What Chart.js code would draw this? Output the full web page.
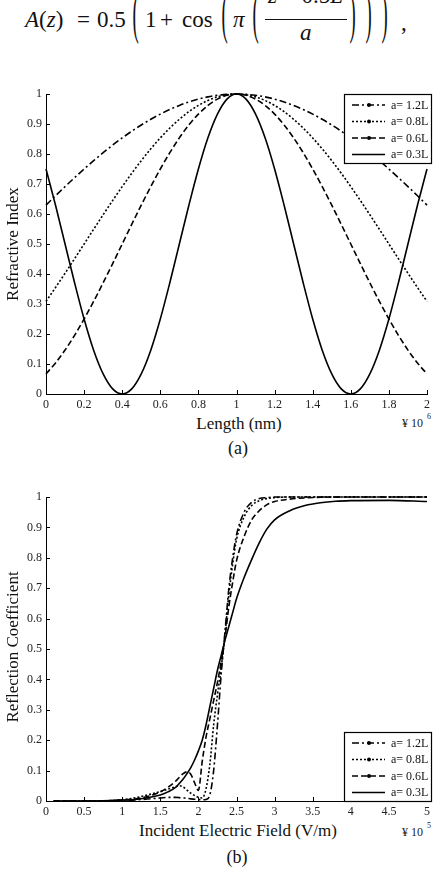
<!DOCTYPE html>
<html><head><meta charset="utf-8">
<script src="https://cdn.jsdelivr.net/npm/chart.js@4/dist/chart.umd.min.js"></script>
<style>
html,body{margin:0;padding:0;background:#fff;}
#page{position:relative;width:434px;height:872px;overflow:hidden;font-family:"Liberation Serif","Times New Roman",serif;color:#111;}
.t{position:absolute;white-space:nowrap;line-height:1;font-family:"Liberation Serif","Times New Roman",serif;}
.c{transform:translate(-50%,-50%);}
.r{transform:translate(-50%,-50%) rotate(-90deg);}
.f{font-size:23px;}
.p{font-size:22px;transform:scale(0.85,2.6);transform-origin:50% 60%;}
canvas{position:absolute;left:0;}
</style></head><body><div id="page">
<!-- formula -->
<span class="t f" style="left:25px;top:8px"><i>A</i>(<i>z</i>)</span>
<span class="t f" style="left:77px;top:8px">=</span>
<span class="t f" style="left:97px;top:8px">0.5</span>
<span class="t p" style="left:132px;top:6px">(</span>
<span class="t f" style="left:145px;top:8px">1</span>
<span class="t f" style="left:160px;top:8px">+</span>
<span class="t f" style="left:182px;top:8px">cos</span>
<span class="t p" style="left:221px;top:6px">(</span>
<span class="t f" style="left:233px;top:8px"><i>π</i></span>
<span class="t p" style="left:252px;top:6px">(</span>
<span class="t f" style="left:268px;top:-16px"><i>z</i> − 0.5<i>L</i></span>
<div style="position:absolute;left:265px;top:18.5px;width:82px;height:1.2px;background:#111"></div>
<span class="t f" style="left:300px;top:21px"><i>a</i></span>
<span class="t p" style="left:349px;top:6px">)</span>
<span class="t p" style="left:365px;top:6px">)</span>
<span class="t p" style="left:381px;top:6px">)</span>
<span class="t f" style="left:401px;top:11px">,</span>

<canvas id="ca" width="434" height="330" style="top:80px"></canvas>
<canvas id="cb" width="434" height="335" style="top:483px"></canvas>

<span class="t r" style="left:12px;top:244px;font-size:17px">Refractive Index</span>
<span class="t c" style="left:239px;top:423px;font-size:17px">Length (nm)</span>
<span class="t" style="left:402px;top:417px;font-size:12px;color:#222">¥ 10</span><span class="t" style="left:427px;top:413px;font-size:8px;color:#222">6</span>
<span class="t c" style="left:238px;top:448px;font-size:18px">(a)</span>

<span class="t r" style="left:12px;top:647px;font-size:17px">Reflection Coefficient</span>
<span class="t c" style="left:238px;top:830px;font-size:17px">Incident Electric Field (V/m)</span>
<span class="t" style="left:402px;top:826px;font-size:12px;color:#222">¥ 10</span><span class="t" style="left:427px;top:822px;font-size:8px;color:#222">5</span>
<span class="t c" style="left:237px;top:857px;font-size:18px">(b)</span>
</div>
<script>
// ---------- Chart (a): refractive index profiles ----------
const lengthX = [0,0.05,0.1,0.15,0.2,0.25,0.3,0.35,0.4,0.45,0.5,0.55,0.6,0.65,0.7,0.75,0.8,0.85,0.9,0.95,1,1.05,1.1,1.15,1.2,1.25,1.3,1.35,1.4,1.45,1.5,1.55,1.6,1.65,1.7,1.75,1.8,1.85,1.9,1.95,2];
const idx12 = [0.6294,0.6607,0.6913,0.7211,0.75,0.7778,0.8044,0.8297,0.8536,0.8759,0.8967,0.9157,0.9330,0.9484,0.9619,0.9735,0.9830,0.9904,0.9957,0.9989,1,0.9989,0.9957,0.9904,0.9830,0.9735,0.9619,0.9484,0.9330,0.9157,0.8967,0.8759,0.8536,0.8297,0.8044,0.7778,0.75,0.7211,0.6913,0.6607,0.6294];
const idx08 = [0.3087,0.3549,0.4025,0.4510,0.5,0.5490,0.5975,0.6451,0.6913,0.7357,0.7778,0.8172,0.8536,0.8865,0.9157,0.9410,0.9619,0.9785,0.9904,0.9976,1,0.9976,0.9904,0.9785,0.9619,0.9410,0.9157,0.8865,0.8536,0.8172,0.7778,0.7357,0.6913,0.6451,0.5975,0.5490,0.5,0.4510,0.4025,0.3549,0.3087];
const idx06 = [0.0670,0.1033,0.1464,0.1956,0.25,0.3087,0.3706,0.4347,0.5,0.5653,0.6294,0.6913,0.75,0.8044,0.8536,0.8967,0.9330,0.9619,0.9830,0.9957,1,0.9957,0.9830,0.9619,0.9330,0.8967,0.8536,0.8044,0.75,0.6913,0.6294,0.5653,0.5,0.4347,0.3706,0.3087,0.25,0.1956,0.1464,0.1033,0.0670];
const idx03 = [0.75,0.629,0.5,0.371,0.25,0.146,0.067,0.017,0,0.017,0.067,0.146,0.25,0.371,0.5,0.629,0.75,0.854,0.933,0.983,1,0.983,0.933,0.854,0.75,0.629,0.5,0.371,0.25,0.146,0.067,0.017,0,0.017,0.067,0.146,0.25,0.371,0.5,0.629,0.75];

// ---------- Chart (b): reflection coefficient ----------
const fieldX = [0.1,0.5,1.0,1.2,1.4,1.5,1.6,1.7,1.75,1.8,1.85,1.9,1.95,2.0,2.05,2.1,2.15,2.2,2.25,2.3,2.35,2.4,2.45,2.5,2.6,2.7,2.8,2.9,3.0,3.2,3.4,3.6,3.8,4.0,4.5,5.0];
const refl12 = [0,0,0.002,0.004,0.008,0.01,0.012,0.012,0.011,0.01,0.009,0.007,0.006,0.005,0.004,0.005,0.02,0.1,0.25,0.42,0.56,0.7,0.8,0.875,0.95,0.983,0.995,0.998,1,1,1,1,1,1,1,1];
const refl08 = [0,0,0.004,0.012,0.024,0.031,0.039,0.047,0.05,0.046,0.036,0.026,0.018,0.012,0.01,0.04,0.12,0.25,0.35,0.44,0.55,0.68,0.78,0.86,0.935,0.972,0.988,0.995,0.998,1,1,1,1,1,1,1];
const refl06 = [0,0,0.003,0.008,0.02,0.03,0.045,0.065,0.078,0.09,0.096,0.088,0.06,0.035,0.13,0.21,0.27,0.33,0.39,0.46,0.54,0.64,0.72,0.79,0.87,0.925,0.955,0.975,0.985,0.993,0.997,0.999,1,1,1,1];
const refl03 = [0,0,0.003,0.006,0.014,0.02,0.03,0.045,0.058,0.072,0.09,0.11,0.135,0.165,0.2,0.25,0.31,0.37,0.43,0.48,0.53,0.575,0.62,0.665,0.735,0.795,0.85,0.895,0.925,0.955,0.972,0.981,0.986,0.988,0.989,0.985];

const seriesNames = ['a= 1.2L','a= 0.8L','a= 0.6L','a= 0.3L'];
const xTicksA = [0,2,0.2];
const xTicksB = [0,5,0.5];
const yTicks = [0,1,0.1];

Chart.defaults.font.family = '"Liberation Serif","Times New Roman",serif';
Chart.defaults.font.size = 12;
Chart.defaults.color = '#222';
Chart.defaults.animation = false;

const styles = [
  {borderDash:[7,3,2,3]},
  {borderDash:[2,2]},
  {borderDash:[6,3]},
  {borderDash:[]}
];

function mk(xs, ys, i){
  return {label: seriesNames[i], data: xs.map((x,k)=>({x:x, y:ys[k]})),
    borderColor:'#000', borderWidth:1.6, borderDash: styles[i].borderDash,
    pointRadius:0, cubicInterpolationMode:'monotone', clip:6, fill:false};
}

const inwardTicks = {
  id:'inwardTicks',
  afterDatasetsDraw(chart){
    const ctx = chart.ctx, xs = chart.scales.x, ys = chart.scales.y;
    ctx.save(); ctx.strokeStyle='#000'; ctx.lineWidth=1; ctx.setLineDash([]);
    ctx.beginPath();
    xs.ticks.forEach(t=>{ const p = Math.round(xs.getPixelForValue(t.value))+0.5; ctx.moveTo(p, ys.bottom); ctx.lineTo(p, ys.bottom-4); });
    ys.ticks.forEach(t=>{ const p = Math.round(ys.getPixelForValue(t.value))+0.5; ctx.moveTo(xs.left, p); ctx.lineTo(xs.left+4, p); });
    ctx.stroke(); ctx.restore();
  }
};

const boxLegend = {
  id:'boxLegend',
  afterDraw(chart, args, o){
    if(!o || o.x === undefined) return;
    const ctx = chart.ctx;
    ctx.save();
    ctx.fillStyle='#fff'; ctx.fillRect(o.x, o.y, o.w, o.h);
    ctx.strokeStyle='#000'; ctx.lineWidth=1.2; ctx.setLineDash([]);
    ctx.strokeRect(o.x+0.5, o.y+0.5, o.w, o.h);
    const offs = [11, 27.5, 44, 60.5];
    chart.data.datasets.forEach((ds,i)=>{
      const yy = o.y + offs[i];
      ctx.beginPath(); ctx.strokeStyle='#000'; ctx.lineWidth=ds.borderWidth;
      ctx.setLineDash(ds.borderDash||[]);
      ctx.moveTo(o.x+8, yy); ctx.lineTo(o.x+41, yy); ctx.stroke();
      ctx.setLineDash([]);
      if(i<3){ ctx.beginPath(); ctx.fillStyle='#000'; ctx.arc(o.x+25, yy, 2, 0, Math.PI*2); ctx.fill(); }
      ctx.fillStyle='#111'; ctx.font='12px "Liberation Serif", serif'; ctx.textBaseline='middle'; ctx.textAlign='left';
      ctx.fillText(ds.label, o.x+47, yy+0.5);
    });
    ctx.restore();
  }
};

const fmt = v => String(Number(v.toFixed(1)));

function makeChart(id, xs, seriesList, xr, xh, legendPos){
  return new Chart(document.getElementById(id), {
    type:'line',
    data:{datasets: seriesList.map((ys,i)=>mk(xs, ys, i))},
    options:{
      responsive:false, devicePixelRatio:1,
      layout:{padding:{top:14,right:4.5,left:0,bottom:0}},
      plugins:{legend:{display:false}, tooltip:{enabled:false}, boxLegend: legendPos},
      scales:{
        x:{type:'linear', min:xr[0], max:xr[1],
           ticks:{stepSize:xr[2], padding:4, callback:fmt, maxRotation:0, autoSkip:false},
           grid:{display:false, drawTicks:false},
           border:{display:true, color:'#000', width:1},
           afterFit(s){ s.height = xh; }},
        y:{type:'linear', min:yTicks[0], max:yTicks[1],
           ticks:{stepSize:yTicks[2], padding:4, callback:fmt, autoSkip:false},
           grid:{display:false, drawTicks:false},
           border:{display:true, color:'#000', width:1},
           afterFit(s){ s.width = 46; }}
      }
    },
    plugins:[inwardTicks, boxLegend]
  });
}

makeChart('ca', lengthX, [idx12, idx08, idx06, idx03], xTicksA, 16, {x:344, y:14, w:87, h:69});
makeChart('cb', fieldX, [refl12, refl08, refl06, refl03], xTicksB, 17, {x:344, y:249, w:87, h:69});
</script>
</body></html>
